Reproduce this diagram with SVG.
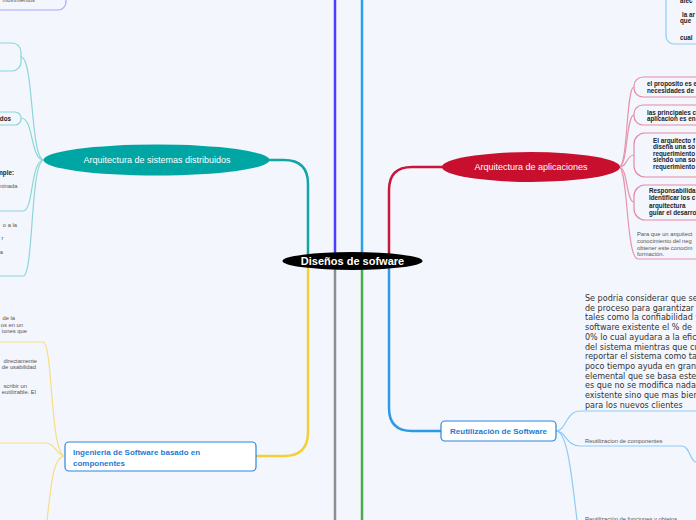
<svg xmlns="http://www.w3.org/2000/svg" width="696" height="520" viewBox="0 0 696 520">
<style>
.main{fill:none;stroke-width:2.5}
.sub{fill:none;stroke-width:1.2}
.lbl{font-family:"Liberation Sans",Arial,sans-serif;font-size:9px;fill:#fff;text-anchor:middle}
.bd{font-family:"Liberation Sans",Arial,sans-serif;font-size:6.3px;font-weight:bold;fill:#222}
.rg{font-family:"Liberation Sans",Arial,sans-serif;font-size:5.8px;fill:#555}
.bx{font-family:"Liberation Sans",Arial,sans-serif;font-size:8px;font-weight:bold;fill:#1f7ad6}
.big{font-family:"DejaVu Sans",Verdana,sans-serif;font-size:8.05px;fill:#333}
.end{text-anchor:end}
.tealb{fill:none;stroke:#8cd6d8;stroke-width:1.2}
.redb{fill:none;stroke:#e58aa6;stroke-width:1.2}
.blueb{fill:none;stroke:#8ecbf5;stroke-width:1.2}
.bluebox{fill:#fff;stroke:#2a86e0;stroke-width:1.2}
</style>
<rect x="0" y="0" width="696" height="520" fill="#f3f6fd"/>
<g id="connectors">
  <path class="main" stroke="#12a5a5" d="M308,258 L308,184 Q308,160 284,160 L268,160"/>
  <path class="main" stroke="#4a3dff" d="M335,258 L335,0"/>
  <path class="main" stroke="#2ba0ea" d="M362,258 L362,0"/>
  <path class="main" stroke="#c8173a" d="M389,258 L389,190 Q389,167 412,167 L443,167"/>
  <path class="main" stroke="#f5cf3a" d="M308,264 L308,432 Q308,456 284,456 L256,456"/>
  <path class="main" stroke="#8e8e8e" d="M335,264 L335,520"/>
  <path class="main" stroke="#4caa4c" d="M362,264 L362,520"/>
  <path class="main" stroke="#2b9be8" d="M389,264 L389,408 Q389,431 412,431 L441,431"/>
  <g stroke="#8cd6d8" class="sub">
    <path d="M44,160 C30,160 34,57 21,57"/>
    <path d="M44,160 C30,160 34,118 21,118"/>
    <path d="M44,160 C30,160 34,211 23,211 L0,211"/>
    <path d="M44,160 C30,160 34,276 23,276 L0,276"/>
  </g>
  <g stroke="#e795ae" class="sub">
    <path d="M619,167 C628,167 626,87 634,87"/>
    <path d="M619,167 C628,167 626,115 634,115"/>
    <path d="M619,167 C628,167 626,155 634,155"/>
    <path d="M619,167 C628,167 626,202 634,202"/>
    <path d="M619,167 C628,167 626,259 638,259 L696,259"/>
  </g>
  <g stroke="#8ecbf5" class="sub">
    <path d="M556,431 C566,431 566,411 580,411 L696,411"/>
    <path d="M556,431 C566,431 566,446 580,446 L682,446 C690,446 690,462 696,462"/>
    <path d="M556,431 C568,431 572,480 577,520"/>
  </g>
  <g stroke="#f7dd86" class="sub">
    <path d="M65,456 C50,456 53,342 43,342 L0,342"/>
    <path d="M65,456 C56,456 56,443 45,443 L0,443"/>
    <path d="M65,456 C52,456 51,490 47,520"/>
  </g>
</g>
<g id="center">
  <ellipse cx="352.5" cy="261" rx="70" ry="9" fill="#000"/>
  <text x="352.5" y="265" font-family="Liberation Sans, Arial, sans-serif" font-size="11" font-weight="bold" fill="#fff" text-anchor="middle">Diseños de sofware</text>
</g>
<g id="node-distribuidos">
  <ellipse cx="156.5" cy="160" rx="113" ry="15.5" fill="#00a6a3"/>
  <text class="lbl" x="157" y="163">Arquitectura de sistemas distribuidos</text>
</g>
<g id="node-aplicaciones">
  <ellipse cx="531" cy="167" rx="89" ry="15" fill="#c8102e"/>
  <text class="lbl" x="531" y="170">Arquitectura de aplicaciones</text>
</g>
<g id="node-componentes">
  <rect class="bluebox" x="65" y="442" width="191" height="29" rx="4"/>
  <text class="bx" x="73" y="455">Ingenieria de Software basado en</text>
  <text class="bx" x="73" y="466">componentes</text>
</g>
<g id="node-reutilizacion">
  <rect class="bluebox" x="441" y="421" width="115" height="20" rx="4"/>
  <text class="bx" x="498.5" y="434" text-anchor="middle">Reutilización de Software</text>
</g>
<g id="top-left-box">
  <rect x="-30" y="-30" width="96" height="40" rx="8" fill="none" stroke="#aaa6ff" stroke-width="1.2"/>
  <text class="rg end" x="35" y="1.5">movimientos</text>
</g>
<g id="top-right-box">
  <rect class="blueb" x="666" y="-30" width="60" height="74" rx="8"/>
  <text class="bd" x="680" y="3">afec</text>
  <text class="bd" x="682" y="17">la ar</text>
  <text class="bd" x="680" y="23">que</text>
  <text class="bd" x="680" y="39.5">cual</text>
</g>
<g id="teal-child-1">
  <rect class="tealb" x="-60" y="43" width="81" height="28" rx="9"/>
</g>
<g id="teal-child-2">
  <rect class="tealb" x="-60" y="112" width="81" height="13" rx="6"/>
  <text class="bd end" x="11" y="120.5">dos</text>
</g>
<g id="teal-child-3">
  <text class="bd end" x="14" y="175">mple:</text>
  <text class="rg end" x="17.5" y="188">minada</text>
</g>
<g id="teal-child-4">
  <text class="rg end" x="17" y="226.5">o a la</text>
  <text class="rg end" x="3.5" y="240">r</text>
  <text class="rg end" x="3" y="253.5">a</text>
</g>
<g id="red-child-1">
  <rect class="redb" x="634" y="77" width="80" height="20" rx="9"/>
  <text class="bd" x="647" y="86">el proposito es e</text>
  <text class="bd" x="647" y="92.5">necesidades de</text>
</g>
<g id="red-child-2">
  <rect class="redb" x="634" y="105" width="80" height="20" rx="9"/>
  <text class="bd" x="647" y="114.5">las principales c</text>
  <text class="bd" x="647" y="121">aplicacion es en</text>
</g>
<g id="red-child-3">
  <rect class="redb" x="634" y="133" width="80" height="44" rx="11"/>
  <text class="bd" x="653" y="143">El arquitecto f</text>
  <text class="bd" x="653" y="149.3">diseña una so</text>
  <text class="bd" x="653" y="155.7">requerimiento</text>
  <text class="bd" x="653" y="162.3">siendo una so</text>
  <text class="bd" x="653" y="169">requerimiento</text>
</g>
<g id="red-child-4">
  <rect class="redb" x="634" y="185" width="80" height="35" rx="11"/>
  <text class="bd" x="649" y="193">Responsabilida</text>
  <text class="bd" x="649" y="200">Identificar los c</text>
  <text class="bd" x="649" y="207.5">arquitectura</text>
  <text class="bd" x="649" y="214.5">guiar el desarro</text>
</g>
<g id="red-child-5">
  <text class="rg" x="637" y="236">Para que un arquitect</text>
  <text class="rg" x="637" y="243">conocimiento del neg</text>
  <text class="rg" x="637" y="249.5">obtener este conocim</text>
  <text class="rg" x="637" y="256">formación.</text>
</g>
<g id="yellow-child-1">
  <text class="rg end" x="15" y="320">de la</text>
  <text class="rg end" x="23" y="326.5">os en un</text>
  <text class="rg end" x="27" y="333">iones que</text>
</g>
<g id="yellow-child-2">
  <text class="rg end" x="37" y="362.7">directamente</text>
  <text class="rg end" x="36" y="368.5">de usabilidad</text>
</g>
<g id="yellow-child-3">
  <text class="rg end" x="27" y="388">scribir un</text>
  <text class="rg end" x="36" y="394">eutilizable. El</text>
</g>
<g id="blue-child-1">
  <text class="big" x="585" y="301">Se podria considerar que se</text>
  <text class="big" x="585" y="310.7">de proceso para garantizar</text>
  <text class="big" x="585" y="320.4">tales como la confiabilidad y</text>
  <text class="big" x="585" y="330.1">software existente el % de</text>
  <text class="big" x="585" y="339.8">0% lo cual ayudara a la efic</text>
  <text class="big" x="585" y="349.5">del sistema mientras que cu</text>
  <text class="big" x="585" y="359.2">reportar el sistema como ta</text>
  <text class="big" x="585" y="368.9">poco tiempo ayuda en gran</text>
  <text class="big" x="585" y="378.6">elemental que se basa este</text>
  <text class="big" x="585" y="388.3">es que no se modifica nada</text>
  <text class="big" x="585" y="398">existente sino que mas bien</text>
  <text class="big" x="585" y="407.7">para los nuevos clientes</text>
</g>
<g id="blue-child-2">
  <text class="rg" x="585" y="443" fill="#444">Reutilizacion de componentes</text>
</g>
<g id="blue-child-3">
  <text class="rg" x="585" y="521" fill="#444">Reutilización de funciones y objetos</text>
</g>
</svg>
